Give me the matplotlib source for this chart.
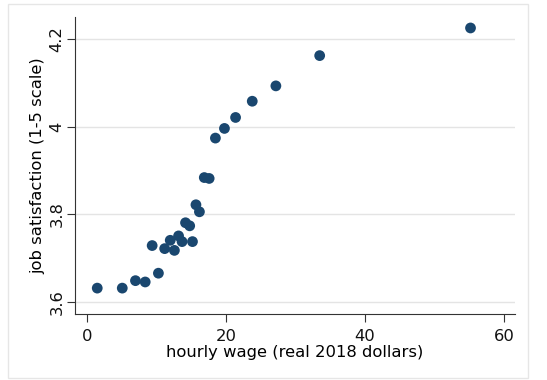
import numpy as np
import matplotlib
matplotlib.use('Agg')
import matplotlib.pyplot as plt
from matplotlib.patches import Rectangle

# hourly wage vs job satisfaction
wage = [1.5, 5.1, 7.0, 8.4, 10.3, 9.4, 11.2, 12.0, 12.6, 13.2, 13.7, 15.2,
        14.2, 14.8, 15.7, 16.2, 16.9, 17.6, 18.5, 19.8, 21.4, 23.8, 27.2,
        33.5, 55.2]
satisf = [3.632, 3.632, 3.649, 3.646, 3.666, 3.729, 3.722, 3.741, 3.718,
          3.751, 3.738, 3.738, 3.781, 3.774, 3.822, 3.806, 3.884, 3.882,
          3.974, 3.996, 4.021, 4.058, 4.093, 4.162, 4.225]

xticks = [0, 20, 40, 60]
yticks = [3.6, 3.8, 4.0, 4.2]
ytick_labels = ['3.6', '3.8', '4', '4.2']

fig = plt.figure(figsize=(5.47, 3.80), dpi=100)
ax = fig.add_axes([75/547, 1 - 314/380, 440/547, 297/380])

# outer graph region border (Stata style)
fig.patches.append(Rectangle((8/547, 1 - 378/380), 520/547, 374/380,
                             transform=fig.transFigure, fill=False,
                             edgecolor='#e6e6e6', linewidth=1.0))

ax.scatter(wage, satisf, s=60, color='#1a476f', edgecolors='none', zorder=3)

ax.set_xlim(-1.7, 61.6)
ax.set_ylim(3.573, 4.25)
ax.set_xticks(xticks)
ax.set_yticks(yticks)
ax.set_yticklabels(ytick_labels, rotation=90, va='center')
ax.tick_params(axis='both', direction='out', length=6, width=0.8,
               color='#333333', labelsize=11.8, labelcolor='#111111')
ax.tick_params(axis='x', pad=5)
ax.tick_params(axis='y', pad=1.5)

ax.grid(axis='y', color='#e4e4e4', linewidth=1.0)
ax.set_axisbelow(True)
for side in ['top', 'right']:
    ax.spines[side].set_visible(False)
for side in ['left', 'bottom']:
    ax.spines[side].set_color('#333333')
    ax.spines[side].set_linewidth(0.8)

ax.set_xlabel('hourly wage (real 2018 dollars)', fontsize=11.8, labelpad=0.5)
ax.set_ylabel('job satisfaction (1-5 scale)', fontsize=11.8, labelpad=3)

fig.savefig('out.png', dpi=100)
